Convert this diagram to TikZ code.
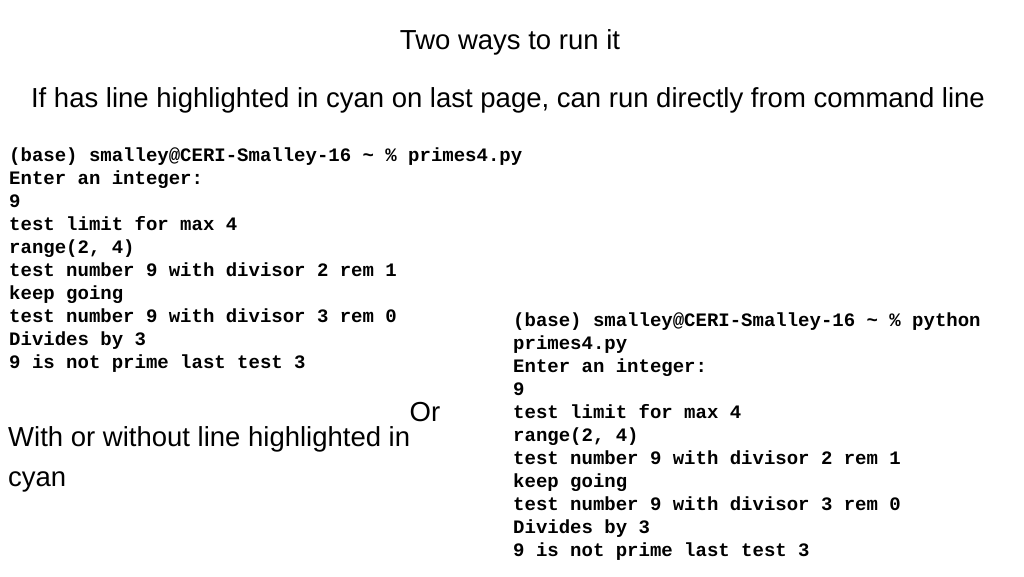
\documentclass[tikz,border=0pt]{standalone}
\usepackage{fontspec}
\setmainfont{Liberation Sans}
\newfontfamily\codefont{Liberation Mono}
\begin{document}
\begin{tikzpicture}[x=1pt,y=-1pt,
  code/.style={anchor=north west,align=left,inner sep=0pt,font=\codefont\bfseries\fontsize{19}{23}\selectfont},
  hand/.style={inner sep=0pt,font=\fontsize{27.5}{40}\selectfont}]
\useasboundingbox (0,0) rectangle (1024,576);
\node[hand] (t1) at (510,42) {Two ways to run it};
\node[hand] (t2) at (508,100) {If has line highlighted in cyan on last page, can run directly from command line};
\node[code] (c1) at (9,148) {(base) smalley@CERI-Smalley-16 \char`~{} \% primes4.py\\
Enter an integer:\\
9\\
test limit for max 4\\
range(2, 4)\\
test number 9 with divisor 2 rem 1\\
keep going\\
test number 9 with divisor 3 rem 0\\
Divides by 3\\
9 is not prime last test 3};
\node[code] (c2) at (513,313) {(base) smalley@CERI-Smalley-16 \char`~{} \% python\\
primes4.py\\
Enter an integer:\\
9\\
test limit for max 4\\
range(2, 4)\\
test number 9 with divisor 2 rem 1\\
keep going\\
test number 9 with divisor 3 rem 0\\
Divides by 3\\
9 is not prime last test 3};
\node[hand] (or) at (425,412) {Or};
\node[hand,anchor=north west,align=left] (w) at (8,426) {With or without line highlighted in\\cyan};
\end{tikzpicture}
\end{document}
